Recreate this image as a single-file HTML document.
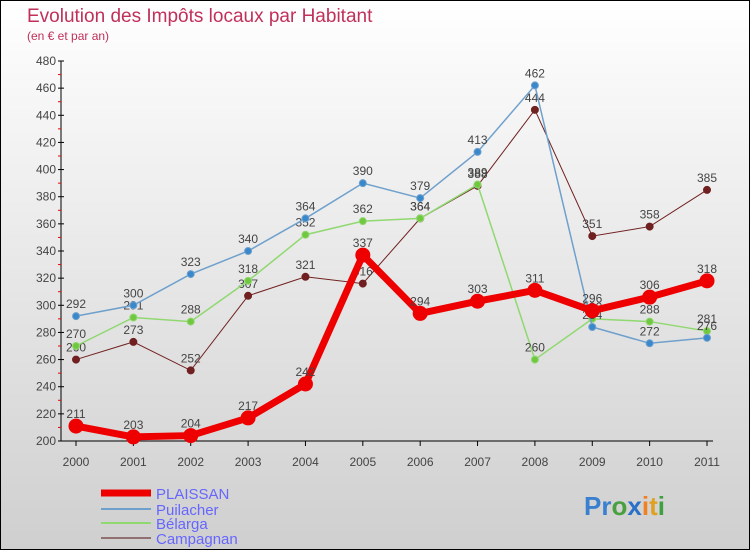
<!DOCTYPE html>
<html><head><meta charset="utf-8"><style>
body{margin:0}
#c{width:748px;height:548px;border:1px solid #000;background:linear-gradient(#fff,#cfcfcf);position:relative;font-family:"Liberation Sans","DejaVu Sans",sans-serif;overflow:hidden}
svg{position:absolute;left:0;top:0}
</style></head><body>
<div id="c">
<svg id="s" width="748" height="548">
<text x="26" y="21" font-size="19" fill="#c0305a">Evolution des Impôts locaux par Habitant</text>
<text x="26" y="39" font-size="12" fill="#c0305a">(en € et par an)</text>
<g id="legend">
<line x1="100" y1="492" x2="150" y2="492" stroke="#e00" stroke-width="7"/>
<text x="155" y="498" font-size="15" fill="#66f">PLAISSAN</text>
<line x1="100" y1="508" x2="150" y2="508" stroke="#6fa0cc" stroke-width="2"/>
<text x="155" y="514" font-size="15" fill="#66f">Puilacher</text>
<line x1="100" y1="522" x2="150" y2="522" stroke="#90d870" stroke-width="2"/>
<text x="155" y="528" font-size="15" fill="#66f">Bélarga</text>
<line x1="100" y1="537" x2="150" y2="537" stroke="#907070" stroke-width="2"/>
<text x="155" y="543" font-size="15" fill="#66f">Campagnan</text>
</g>
<text x="583" y="514" font-size="26" font-weight="bold"><tspan fill="#3a7fd0">Pr</tspan><tspan fill="#4aa040">o</tspan><tspan fill="#2a70c8">x</tspan><tspan fill="#f08020">i</tspan><tspan fill="#e0a020">t</tspan><tspan fill="#40a040">i</tspan></text>
</svg>
</div>
<script>
const years=["2000","2001","2002","2003","2004","2005","2006","2007","2008","2009","2010","2011"];
const yTicks=[200,220,240,260,280,300,320,340,360,380,400,420,440,460,480];
const plaissan=[211,203,204,217,242,337,294,303,311,296,306,318];
const puilacher=[292,300,323,340,364,390,379,413,462,284,272,276];
const belarga=[270,291,288,318,352,362,364,389,260,290,288,281];
const campagnan=[260,273,252,307,321,316,364,388,444,351,358,385];
const NS="http://www.w3.org/2000/svg",s=document.getElementById('s');
const X=i=>75+i*(631/11), Y=v=>440-(v-200)*(380/280);
function mk(t,a,p){const e=document.createElementNS(NS,t);for(const k in a)e.setAttribute(k,a[k]);(p||s).appendChild(e);return e;}
const ax=mk('g',{});


let l=mk('line',{x1:60,y1:60,x2:60,y2:440,stroke:'#000'},ax);
l=mk('line',{x1:60,y1:440,x2:712,y2:440,stroke:'#000'},ax);
yTicks.forEach(v=>{mk('line',{x1:57,y1:Y(v),x2:63,y2:Y(v),stroke:'#000'},ax);
 if(v<480)mk('line',{x1:57,y1:Y(v+10),x2:60,y2:Y(v+10),stroke:'#e00'},ax);
 const t=mk('text',{x:55,y:Y(v)+4,'font-size':12,'text-anchor':'end',fill:'#444'},ax);t.textContent=v;
 
 });
years.forEach((y,i)=>{mk('line',{x1:X(i),y1:440,x2:X(i),y2:445,stroke:'#000'},ax);
 const t=mk('text',{x:X(i),y:465,'font-size':12,'text-anchor':'middle',fill:'#444'},ax);t.textContent=y;
 
 });
function series(d,col,dot,w,r,name){const g=mk('g',{});
 
 
 mk('polyline',{points:d.map((v,i)=>X(i)+','+Y(v)).join(' '),fill:'none',stroke:col,'stroke-width':w},g);
 d.forEach((v,i)=>{const c=mk('circle',{cx:X(i),cy:Y(v),r:r,fill:dot,stroke:col,'stroke-width':1},g);
 
 
 const t=mk('text',{x:X(i),y:Y(v)-8,'font-size':12,'text-anchor':'middle',fill:'#444'},g);t.textContent=v;
 
 });}
series(campagnan,'#702020','#702020',1,3.5,'series-campagnan');
series(belarga,'#90d870','#70c840',1.5,3.5,'series-belarga');
series(puilacher,'#6fa0cc','#3a88cc',1.5,3.5,'series-puilacher');
series(plaissan,'#ee0000','#ee0000',7,7,'series-plaissan');
</script>
</body></html>
